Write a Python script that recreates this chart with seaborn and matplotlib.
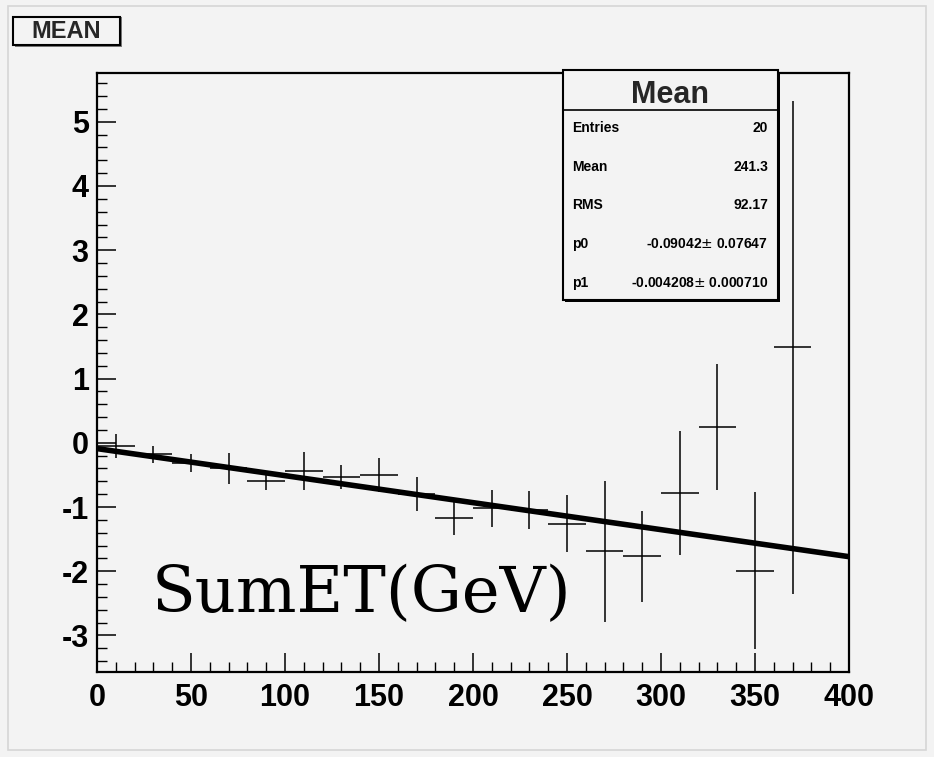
import numpy as np
import pandas as pd
import matplotlib
matplotlib.use("Agg")
import matplotlib.pyplot as plt
from matplotlib.patches import Rectangle
from matplotlib.ticker import MultipleLocator
import seaborn as sns

# ---- data ----
bin_centers = [10, 30, 50, 70, 90, 110, 130, 150, 170, 190,
               210, 230, 250, 270, 290, 310, 330, 350, 370]
mean_vals = [-0.05, -0.18, -0.32, -0.40, -0.60, -0.44, -0.53, -0.50, -0.80, -1.17,
             -1.02, -1.05, -1.26, -1.69, -1.77, -0.78, 0.25, -1.99, 1.49]
mean_errs = [0.18, 0.13, 0.14, 0.24, 0.13, 0.30, 0.19, 0.26, 0.26, 0.27,
             0.29, 0.30, 0.44, 1.10, 0.71, 0.96, 0.98, 1.22, 3.84]
bin_half_width = 10

p0 = -0.09042
p1 = -0.004208
fit_x = [0, 400]
fit_y = [p0 + p1 * v for v in fit_x]

stat_labels = ["Entries", "Mean", "RMS", "p0", "p1"]
stat_values = ["20", "241.3", "92.17", "-0.09042$\\pm$ 0.07647", "-0.004208$\\pm$ 0.000710"]

x_ticks = [0, 50, 100, 150, 200, 250, 300, 350, 400]
y_ticks = [-3, -2, -1, 0, 1, 2, 3, 4, 5]

BG = "#f3f3f3"
W, H = 934, 757

sns.set_theme(style="ticks")
plt.rcParams["font.family"] = ["Liberation Sans Narrow", "Liberation Sans", "DejaVu Sans"]
plt.rcParams["axes.unicode_minus"] = False

fig = plt.figure(figsize=(W / 100, H / 100), dpi=100, facecolor=BG)

def fx(px):
    return px / W

def fy(py):
    return 1 - py / H

# pad border
fig.add_artist(Rectangle((fx(8), fy(750)), fx(918), fy(6) - fy(750), transform=fig.transFigure,
                         fill=False, edgecolor="#d6d6d6", lw=1.2))

ax = fig.add_axes([fx(97), fy(672), fx(849) - fx(97), fy(73) - fy(672)])
ax.set_facecolor(BG)

df = pd.DataFrame({"x": bin_centers, "y": mean_vals, "err": mean_errs})
ax.errorbar(df["x"], df["y"], yerr=df["err"], xerr=bin_half_width, fmt="none",
            ecolor="black", elinewidth=1.1, capsize=0)

fit_df = pd.DataFrame({"x": fit_x, "y": fit_y})
sns.lineplot(data=fit_df, x="x", y="y", ax=ax, color="black", lw=4.0)

ax.set_xlim(0, 400)
ax.set_ylim(-3.57, 5.76)
ax.set_xlabel("")
ax.set_ylabel("")
ax.set_xticks(x_ticks)
ax.set_yticks(y_ticks)
ax.xaxis.set_minor_locator(MultipleLocator(10))
ax.yaxis.set_minor_locator(MultipleLocator(0.2))
ax.tick_params(which="major", direction="in", length=14, width=1.1, color="black")
ax.tick_params(which="minor", direction="in", length=7, width=1.0, color="black")
ax.tick_params(axis="x", which="major", pad=8)
ax.tick_params(axis="y", which="major", pad=6)
for lab in ax.get_xticklabels() + ax.get_yticklabels():
    lab.set_fontweight("bold")
    lab.set_fontsize(22)
    lab.set_color("black")
for sp in ax.spines.values():
    sp.set_visible(True)
    sp.set_color("black")
    sp.set_linewidth(1.6)

# big axis title text inside the plot
fig.text(fx(152), fy(612), "SumET(GeV)", family="DejaVu Serif", fontsize=46,
         ha="left", va="baseline", color="black")

# title box "MEAN"
fig.add_artist(Rectangle((fx(15), fy(47)), fx(107), fy(17) - fy(47), transform=fig.transFigure,
                         facecolor="#7a7a7a", edgecolor="none"))
fig.add_artist(Rectangle((fx(13), fy(45)), fx(107), fy(17) - fy(45), transform=fig.transFigure,
                         facecolor=BG, edgecolor="black", lw=1.5))
fig.text(fx(66.5), fy(31), "MEAN", fontsize=17, fontweight="bold",
         family=["Liberation Sans", "DejaVu Sans"], ha="center", va="center")

# stats box
bx0, bx1, by0, by1 = 563, 778, 70, 300
fig.add_artist(Rectangle((fx(bx0 + 2), fy(by1 + 2)), fx(bx1 - bx0), fy(by0) - fy(by1),
                         transform=fig.transFigure, facecolor="black", edgecolor="none", zorder=5))
fig.add_artist(Rectangle((fx(bx0), fy(by1)), fx(bx1 - bx0), fy(by0) - fy(by1),
                         transform=fig.transFigure, facecolor=BG, edgecolor="black", lw=1.5, zorder=6))
fig.add_artist(plt.Line2D([fx(bx0), fx(bx1)], [fy(110), fy(110)], transform=fig.transFigure,
                          color="black", lw=1.2, zorder=7))
fig.text(fx(670), fy(95), "Mean", fontsize=22, fontweight="bold",
         family=["Liberation Sans", "DejaVu Sans"], ha="center", va="center", zorder=8)
row_y = [128, 167, 205, 244, 283]
for lab, val, ry in zip(stat_labels, stat_values, row_y):
    fig.text(fx(572), fy(ry), lab, fontsize=10, fontweight="bold", ha="left", va="center",
             color="black", zorder=8)
    fig.text(fx(768), fy(ry), val, fontsize=10, fontweight="bold", ha="right", va="center",
             color="black", zorder=8)

fig.savefig("out.png", dpi=100, facecolor=BG)
